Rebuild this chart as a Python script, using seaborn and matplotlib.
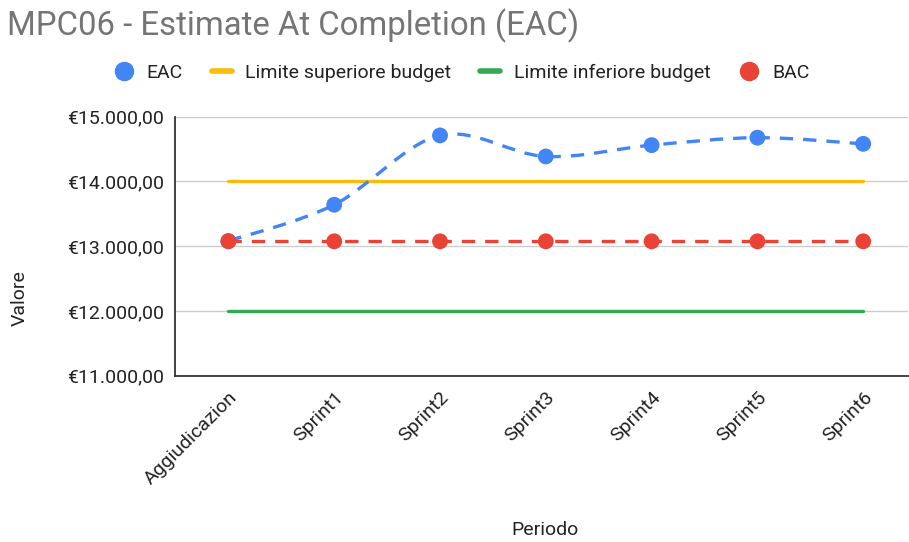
import numpy as np
import pandas as pd
import matplotlib
matplotlib.use("Agg")
import matplotlib.pyplot as plt
from matplotlib.path import Path
from matplotlib.patches import PathPatch
from matplotlib.lines import Line2D
from matplotlib.ticker import FuncFormatter
import seaborn as sns

# Data
periodi = ["Aggiudicazion", "Sprint1", "Sprint2", "Sprint3", "Sprint4", "Sprint5", "Sprint6"]
eac = [13080, 13640, 14710, 14385, 14560, 14675, 14580]
bac = [13075, 13075, 13075, 13075, 13075, 13075, 13075]
limite_sup = [14000, 14000, 14000, 14000, 14000, 14000, 14000]
limite_inf = [12000, 12000, 12000, 12000, 12000, 12000, 12000]
y_ticks = [11000, 12000, 13000, 14000, 15000]

BLUE = "#4285F4"
YELLOW = "#FBBC04"
GREEN = "#34A853"
RED = "#EA4335"

df = pd.DataFrame({"Periodo": periodi, "EAC": eac, "BAC": bac,
                   "Sup": limite_sup, "Inf": limite_inf})

sns.set_style("white")
plt.rcParams["font.family"] = ["Roboto", "DejaVu Sans"]

fig = plt.figure(figsize=(9.09, 5.42), dpi=100)
ax = fig.add_axes([0.1925, 0.3068, 0.806, 0.478])

# budget limits
sns.lineplot(data=df, x="Periodo", y="Sup", color=YELLOW, lw=2.4, ax=ax, sort=False)
sns.lineplot(data=df, x="Periodo", y="Inf", color=GREEN, lw=2.4, ax=ax, sort=False)

# EAC smooth dashed curve (Catmull-Rom through the data points)
xs = np.arange(len(periodi), dtype=float)
ys = np.array(eac, dtype=float)
verts = [(xs[0], ys[0])]
codes = [Path.MOVETO]
n = len(xs)
for i in range(n - 1):
    x0, y0 = xs[max(i - 1, 0)], ys[max(i - 1, 0)]
    x1, y1 = xs[i], ys[i]
    x2, y2 = xs[i + 1], ys[i + 1]
    x3, y3 = xs[min(i + 2, n - 1)], ys[min(i + 2, n - 1)]
    c1 = (x1 + (x2 - x0) / 6, y1 + (y2 - y0) / 6)
    c2 = (x2 - (x3 - x1) / 6, y2 - (y3 - y1) / 6)
    verts += [c1, c2, (x2, y2)]
    codes += [Path.CURVE4] * 3
ax.add_patch(PathPatch(Path(verts, codes), fill=False, edgecolor=BLUE, lw=2.4,
                       linestyle=(0, (4, 3)), zorder=3))
sns.scatterplot(data=df, x="Periodo", y="EAC", color=BLUE, s=130, edgecolor="none",
                ax=ax, zorder=4)

# BAC
sns.lineplot(data=df, x="Periodo", y="BAC", color=RED, lw=2.4, ax=ax, sort=False,
             linestyle=(0, (4, 3)), zorder=4)
sns.scatterplot(data=df, x="Periodo", y="BAC", color=RED, s=130, edgecolor="none",
                ax=ax, zorder=5)

ax.set_xlim(-0.505, 6.42)
ax.set_ylim(11000, 15000)
ax.set_yticks(y_ticks)


def euro(v, pos):
    s = f"{v:,.2f}".replace(",", "X").replace(".", ",").replace("X", ".")
    return "€" + s


ax.yaxis.set_major_formatter(FuncFormatter(euro))
ax.grid(axis="y", color="#cccccc", lw=1)
ax.set_axisbelow(True)
for side in ["top", "right"]:
    ax.spines[side].set_visible(False)
for side in ["left", "bottom"]:
    ax.spines[side].set_color("#333333")
    ax.spines[side].set_linewidth(1.3)

ax.tick_params(axis="y", length=0, labelsize=14, pad=8, colors="#222222")
ax.tick_params(axis="x", direction="inout", length=14, width=1, color="#222222",
               labelsize=14, pad=2, labelcolor="#222222")
plt.setp(ax.get_xticklabels(), rotation=45, ha="right", va="top",
         rotation_mode="anchor")

ax.set_xlabel("Periodo", fontsize=14, color="#222222")
ax.set_ylabel("Valore", fontsize=14, color="#222222")
ax.xaxis.set_label_coords(0.505, -0.56)
ax.yaxis.set_label_coords(-0.2, 0.30)

fig.text(0.008, 1 - 26 / 542, "MPC06 - Estimate At Completion (EAC)", fontsize=23.7,
         color="#757575", va="center", ha="left")

handles = [
    Line2D([], [], marker="o", ls="none", color=BLUE, markersize=13),
    Line2D([], [], color=YELLOW, lw=4),
    Line2D([], [], color=GREEN, lw=4),
    Line2D([], [], marker="o", ls="none", color=RED, markersize=13),
]
labels = ["EAC", "Limite superiore budget", "Limite inferiore budget", "BAC"]
fig.legend(handles, labels, loc="center", bbox_to_anchor=(0.508, 1 - 73 / 542),
           ncol=4, frameon=False, fontsize=14, handlelength=1.0,
           handletextpad=0.7, columnspacing=1.5, labelcolor="#222222")

fig.savefig("out.png", dpi=100)
